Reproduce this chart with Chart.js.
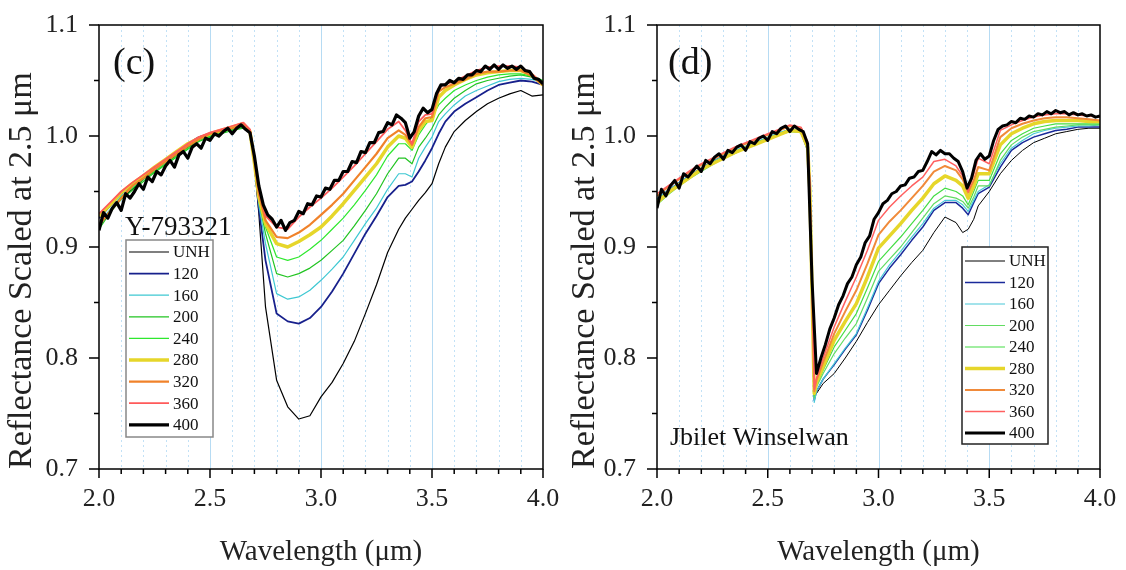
<!DOCTYPE html>
<html>
<head>
<meta charset="utf-8">
<script src="https://cdn.jsdelivr.net/npm/chart.js@4.4.1/dist/chart.umd.min.js"></script>
<style>
  body { margin: 0; background: #fff; }
  #wrap { position: relative; width: 1126px; height: 570px; overflow: hidden; }
  canvas { display: block; position: absolute; top: 0; }
  #chartC { left: 0; }
  #chartD { left: 563px; }
</style>
</head>
<body>
<div id="wrap">
  <canvas id="chartC" width="563" height="570"></canvas>
  <canvas id="chartD" width="563" height="570"></canvas>
</div>
<script>
// heating temperatures (legend labels)
const temps = ["UNH", "120", "160", "200", "240", "280", "320", "360", "400"];

// dense wavelength grid used for the noisy 400 spectra
const wl400 = [2.00, 2.02, 2.04, 2.06, 2.08, 2.10, 2.12, 2.14, 2.16, 2.18, 2.20, 2.22, 2.24, 2.26, 2.28,
  2.30, 2.32, 2.34, 2.36, 2.38, 2.40, 2.42, 2.44, 2.46, 2.48, 2.50, 2.52, 2.54, 2.56, 2.58,
  2.60, 2.62, 2.64, 2.66, 2.68, 2.70, 2.72, 2.74, 2.76, 2.78, 2.80, 2.82, 2.84, 2.86, 2.88,
  2.90, 2.92, 2.94, 2.96, 2.98, 3.00, 3.02, 3.04, 3.06, 3.08, 3.10, 3.12, 3.14, 3.16, 3.18,
  3.20, 3.22, 3.24, 3.26, 3.28, 3.30, 3.32, 3.34, 3.36, 3.38, 3.40, 3.42, 3.44, 3.46, 3.48,
  3.50, 3.52, 3.54, 3.56, 3.58, 3.60, 3.62, 3.64, 3.66, 3.68, 3.70, 3.72, 3.74, 3.76, 3.78,
  3.80, 3.82, 3.84, 3.86, 3.88, 3.90, 3.92, 3.94, 3.96, 3.98, 4.00];

// ---- panel (c) Y-793321 ----
const wlC = [2.0, 2.05, 2.1, 2.15, 2.2, 2.25, 2.3, 2.35, 2.4, 2.45, 2.5, 2.55, 2.6, 2.65,
  2.68, 2.7, 2.72, 2.75, 2.8, 2.85, 2.9, 2.95, 3.0, 3.05, 3.1, 3.15, 3.2, 3.25, 3.3, 3.35,
  3.38, 3.41, 3.44, 3.47, 3.5, 3.53, 3.56, 3.6, 3.65, 3.7, 3.75, 3.8, 3.85, 3.9, 3.95, 4.0];

const cUNH = [0.918, 0.933, 0.944, 0.952, 0.961, 0.968, 0.975, 0.983, 0.990, 0.996, 1.000, 1.004, 1.006, 1.008,
  1.002, 0.975, 0.930, 0.846, 0.780, 0.756, 0.745, 0.748, 0.765, 0.778, 0.795, 0.815, 0.840, 0.866, 0.895, 0.916,
  0.926, 0.934, 0.942, 0.949, 0.957, 0.975, 0.990, 1.004, 1.014, 1.022, 1.029, 1.034, 1.038, 1.041, 1.036, 1.037];
const c120 = [0.926, 0.937, 0.948, 0.956, 0.963, 0.971, 0.978, 0.986, 0.993, 0.999, 1.002, 1.005, 1.008, 1.010,
  1.004, 0.978, 0.935, 0.888, 0.840, 0.833, 0.831, 0.836, 0.846, 0.860, 0.876, 0.894, 0.912, 0.928, 0.945, 0.955,
  0.956, 0.959, 0.968, 0.978, 0.989, 1.002, 1.013, 1.022, 1.029, 1.035, 1.041, 1.046, 1.048, 1.050, 1.049, 1.046];
const c160 = [0.921, 0.934, 0.946, 0.954, 0.962, 0.969, 0.976, 0.984, 0.991, 0.997, 1.001, 1.004, 1.007, 1.009,
  1.004, 0.978, 0.938, 0.903, 0.858, 0.853, 0.855, 0.861, 0.870, 0.880, 0.891, 0.906, 0.921, 0.935, 0.952, 0.966,
  0.966, 0.963, 0.980, 0.990, 0.999, 1.013, 1.020, 1.028, 1.036, 1.041, 1.045, 1.049, 1.051, 1.052, 1.051, 1.048];
const c200 = [0.916, 0.931, 0.943, 0.951, 0.959, 0.967, 0.974, 0.981, 0.988, 0.995, 0.999, 1.002, 1.005, 1.007,
  1.003, 0.977, 0.942, 0.912, 0.876, 0.873, 0.876, 0.881, 0.888, 0.897, 0.906, 0.919, 0.933, 0.948, 0.966, 0.980,
  0.980, 0.975, 0.990, 0.998, 1.007, 1.019, 1.026, 1.034, 1.041, 1.047, 1.050, 1.052, 1.054, 1.055, 1.053, 1.049];
const c240 = [0.919, 0.933, 0.945, 0.953, 0.961, 0.968, 0.975, 0.982, 0.989, 0.996, 1.000, 1.003, 1.006, 1.008,
  1.004, 0.977, 0.944, 0.918, 0.891, 0.888, 0.891, 0.898, 0.906, 0.916, 0.926, 0.938, 0.951, 0.965, 0.982, 0.993,
  0.993, 0.987, 1.001, 1.010, 1.017, 1.028, 1.034, 1.041, 1.046, 1.050, 1.053, 1.055, 1.056, 1.056, 1.054, 1.050];
const c280 = [0.928, 0.938, 0.949, 0.957, 0.964, 0.972, 0.979, 0.986, 0.993, 0.998, 1.002, 1.005, 1.008, 1.011,
  1.004, 0.976, 0.945, 0.921, 0.903, 0.900, 0.905, 0.911, 0.918, 0.928, 0.939, 0.951, 0.963, 0.975, 0.990, 1.000,
  0.998, 0.990, 1.005, 1.013, 1.014, 1.035, 1.041, 1.046, 1.051, 1.055, 1.057, 1.058, 1.059, 1.059, 1.055, 1.046];
const c320 = [0.920, 0.932, 0.944, 0.955, 0.962, 0.970, 0.977, 0.984, 0.991, 0.997, 1.002, 1.005, 1.007, 1.010,
  1.005, 0.978, 0.948, 0.924, 0.909, 0.908, 0.913, 0.920, 0.929, 0.938, 0.948, 0.960, 0.972, 0.984, 0.998, 1.005,
  1.001, 0.992, 1.008, 1.016, 1.017, 1.040, 1.044, 1.047, 1.051, 1.056, 1.058, 1.058, 1.059, 1.059, 1.054, 1.046];
const c360 = [0.930, 0.940, 0.950, 0.958, 0.965, 0.972, 0.979, 0.986, 0.993, 0.999, 1.003, 1.006, 1.009, 1.012,
  1.006, 0.980, 0.952, 0.928, 0.918, 0.916, 0.927, 0.936, 0.944, 0.953, 0.963, 0.973, 0.984, 0.995, 1.006, 1.013,
  1.005, 0.993, 1.013, 1.019, 1.020, 1.043, 1.047, 1.049, 1.054, 1.059, 1.062, 1.063, 1.063, 1.062, 1.056, 1.047];
// 400 on the dense grid (wl400)
const c400 = [0.915, 0.931, 0.926, 0.935, 0.940, 0.933, 0.948, 0.944, 0.950, 0.957, 0.952, 0.963, 0.959, 0.968, 0.965,
  0.973, 0.978, 0.972, 0.983, 0.986, 0.980, 0.990, 0.993, 0.989, 0.998, 0.996, 1.002, 1.000, 1.004, 1.007,
  1.002, 1.007, 1.010, 1.006, 1.003, 0.982, 0.955, 0.938, 0.929, 0.925, 0.918, 0.924, 0.915, 0.922, 0.924,
  0.932, 0.930, 0.939, 0.938, 0.946, 0.945, 0.953, 0.952, 0.960, 0.960, 0.968, 0.968, 0.977, 0.976, 0.986,
  0.985, 0.994, 0.994, 1.003, 1.004, 1.012, 1.010, 1.019, 1.016, 1.012, 0.998, 1.004, 1.018, 1.025, 1.021,
  1.024, 1.038, 1.046, 1.046, 1.050, 1.048, 1.052, 1.051, 1.055, 1.055, 1.059, 1.058, 1.063, 1.060, 1.064,
  1.060, 1.064, 1.061, 1.063, 1.060, 1.063, 1.059, 1.058, 1.052, 1.051, 1.047];

// ---- panel (d) Jbilet Winselwan ----
const wlD = [2.0, 2.05, 2.1, 2.15, 2.2, 2.25, 2.3, 2.35, 2.4, 2.45, 2.5, 2.55, 2.6, 2.65,
  2.68, 2.69, 2.7, 2.71, 2.72, 2.75, 2.8, 2.85, 2.9, 2.95, 3.0, 3.05, 3.1, 3.15, 3.2, 3.25, 3.3, 3.35,
  3.38, 3.405, 3.43, 3.45, 3.5, 3.55, 3.6, 3.65, 3.7, 3.75, 3.8, 3.85, 3.9, 3.95, 4.0];

const dUNH = [0.941, 0.950, 0.957, 0.964, 0.970, 0.976, 0.981, 0.986, 0.990, 0.994, 0.998, 1.002, 1.005, 1.004,
  0.990, 0.950, 0.855, 0.770, 0.768, 0.777, 0.786, 0.800, 0.815, 0.832, 0.848, 0.861, 0.874, 0.886, 0.897, 0.913, 0.927, 0.922,
  0.913, 0.916, 0.925, 0.937, 0.950, 0.966, 0.978, 0.987, 0.994, 0.998, 1.002, 1.004, 1.006, 1.007, 1.007];
const d120 = [0.943, 0.951, 0.958, 0.965, 0.971, 0.977, 0.982, 0.986, 0.990, 0.994, 0.998, 1.002, 1.006, 1.004,
  0.987, 0.946, 0.851, 0.762, 0.770, 0.781, 0.794, 0.808, 0.821, 0.843, 0.867, 0.881, 0.893, 0.906, 0.918, 0.933, 0.940, 0.940,
  0.935, 0.929, 0.940, 0.948, 0.954, 0.972, 0.987, 0.994, 0.999, 1.002, 1.005, 1.006, 1.008, 1.008, 1.008];
const d160 = [0.944, 0.951, 0.958, 0.965, 0.971, 0.977, 0.982, 0.987, 0.991, 0.995, 0.999, 1.003, 1.006, 1.005,
  0.988, 0.947, 0.852, 0.760, 0.770, 0.781, 0.795, 0.809, 0.822, 0.845, 0.869, 0.884, 0.896, 0.909, 0.921, 0.935, 0.942, 0.942,
  0.938, 0.932, 0.942, 0.950, 0.956, 0.975, 0.989, 0.996, 1.002, 1.005, 1.007, 1.008, 1.009, 1.009, 1.010];
const d200 = [0.938, 0.947, 0.955, 0.962, 0.968, 0.974, 0.980, 0.984, 0.989, 0.993, 0.997, 1.001, 1.004, 1.003,
  0.987, 0.948, 0.855, 0.764, 0.774, 0.786, 0.804, 0.818, 0.831, 0.854, 0.878, 0.889, 0.900, 0.913, 0.926, 0.939, 0.946, 0.944,
  0.941, 0.935, 0.945, 0.955, 0.955, 0.978, 0.992, 0.999, 1.004, 1.006, 1.008, 1.009, 1.010, 1.010, 1.010];
const d240 = [0.942, 0.950, 0.957, 0.964, 0.970, 0.976, 0.981, 0.986, 0.990, 0.994, 0.998, 1.002, 1.006, 1.004,
  0.988, 0.950, 0.858, 0.766, 0.776, 0.789, 0.810, 0.825, 0.840, 0.863, 0.887, 0.898, 0.909, 0.921, 0.933, 0.946, 0.953, 0.950,
  0.946, 0.938, 0.950, 0.960, 0.960, 0.984, 0.996, 1.002, 1.007, 1.009, 1.011, 1.011, 1.011, 1.011, 1.011];
const d280 = [0.940, 0.949, 0.956, 0.963, 0.970, 0.975, 0.980, 0.985, 0.989, 0.993, 0.997, 1.001, 1.005, 1.004,
  0.990, 0.952, 0.860, 0.768, 0.778, 0.792, 0.816, 0.833, 0.849, 0.873, 0.899, 0.910, 0.921, 0.933, 0.944, 0.957, 0.964, 0.960,
  0.955, 0.944, 0.955, 0.966, 0.966, 0.992, 1.002, 1.007, 1.011, 1.013, 1.014, 1.014, 1.014, 1.013, 1.013];
const d320 = [0.946, 0.954, 0.961, 0.968, 0.974, 0.979, 0.984, 0.989, 0.993, 0.997, 1.001, 1.005, 1.009, 1.007,
  0.992, 0.955, 0.862, 0.770, 0.780, 0.796, 0.822, 0.842, 0.861, 0.885, 0.911, 0.923, 0.933, 0.944, 0.955, 0.968, 0.973, 0.969,
  0.961, 0.949, 0.960, 0.972, 0.969, 0.999, 1.007, 1.011, 1.014, 1.016, 1.017, 1.017, 1.016, 1.015, 1.014];
const d360 = [0.948, 0.955, 0.962, 0.969, 0.975, 0.980, 0.985, 0.990, 0.994, 0.998, 1.002, 1.006, 1.010, 1.008,
  0.995, 0.958, 0.865, 0.772, 0.782, 0.800, 0.828, 0.851, 0.873, 0.897, 0.924, 0.936, 0.946, 0.955, 0.963, 0.977, 0.979, 0.973,
  0.964, 0.950, 0.966, 0.980, 0.975, 1.005, 1.010, 1.014, 1.017, 1.019, 1.020, 1.020, 1.019, 1.018, 1.017];
// 400 on the dense grid (wl400)
const d400 = [0.935, 0.952, 0.946, 0.955, 0.960, 0.953, 0.966, 0.963, 0.968, 0.973, 0.968, 0.978, 0.975, 0.981, 0.984,
  0.979, 0.987, 0.985, 0.990, 0.992, 0.987, 0.995, 0.993, 0.998, 1.000, 0.996, 1.004, 1.002, 1.007, 1.009,
  1.004, 1.009, 1.006, 1.004, 0.993, 0.870, 0.786, 0.800, 0.812, 0.826, 0.836, 0.848, 0.856, 0.867, 0.873,
  0.884, 0.891, 0.904, 0.910, 0.925, 0.931, 0.939, 0.942, 0.948, 0.950, 0.955, 0.956, 0.962, 0.963, 0.968,
  0.969, 0.977, 0.986, 0.983, 0.987, 0.984, 0.984, 0.980, 0.977, 0.968, 0.953, 0.962, 0.978, 0.984, 0.979,
  0.982, 0.996, 1.006, 1.009, 1.010, 1.013, 1.012, 1.016, 1.015, 1.018, 1.017, 1.020, 1.019, 1.022, 1.020,
  1.023, 1.021, 1.022, 1.019, 1.021, 1.019, 1.020, 1.018, 1.019, 1.017, 1.018];

const FONT = "'Liberation Serif', 'Times New Roman', serif";

const colorsC = ["#000000", "#17208c", "#3ec8d2", "#22c422", "#2ee82e", "#e6d62a", "#f0822a", "#ff5a5a", "#000000"];
const widthsC = [1.2, 1.8, 1.2, 1.2, 1.2, 3.5, 2.2, 1.8, 3.2];
const colorsD = ["#000000", "#1a2a9a", "#48c8d8", "#62dc62", "#44dd44", "#e6d62a", "#f08a3a", "#ff6060", "#000000"];
const widthsD = [1.0, 1.5, 1.2, 1.2, 1.2, 3.5, 2.0, 1.5, 3.0];

// grid lines, frame and the outward ticks
const framePlugin = {
  id: "frame",
  beforeDatasetsDraw(chart) {
    const { ctx, chartArea: a, scales: { x } } = chart;
    ctx.save();
    ctx.lineWidth = 1;
    for (let i = 1; i < 20; i++) {
      const px = Math.round(x.getPixelForValue(2 + i / 10)) + 0.5;
      if (i % 5 === 0) { ctx.setLineDash([]); ctx.strokeStyle = "#b6dbf3"; }
      else { ctx.setLineDash([2, 3]); ctx.strokeStyle = "#c2e1f6"; }
      ctx.beginPath();
      ctx.moveTo(px, a.top);
      ctx.lineTo(px, a.bottom);
      ctx.stroke();
    }
    ctx.restore();
  },
  afterDatasetsDraw(chart) {
    const { ctx, chartArea: a, scales: { x, y } } = chart;
    ctx.save();
    ctx.strokeStyle = "#000";
    ctx.lineWidth = 1.5;
    ctx.strokeRect(a.left, a.top, a.right - a.left, a.bottom - a.top);
    ctx.beginPath();
    for (let i = 0; i <= 20; i++) {
      const px = x.getPixelForValue(2 + i / 10);
      const len = i % 5 === 0 ? 9 : 5;
      ctx.moveTo(px, a.bottom);
      ctx.lineTo(px, a.bottom + len);
    }
    for (let j = 0; j <= 8; j++) {
      const py = y.getPixelForValue(0.7 + j * 0.05);
      const len = j % 2 === 0 ? 10 : 5;
      ctx.moveTo(a.left, py);
      ctx.lineTo(a.left - len, py);
    }
    ctx.stroke();
    ctx.restore();
  }
};

// panel letter, sample name and boxed legend
const notesPlugin = {
  id: "notes",
  afterDraw(chart, args, opts) {
    const { ctx, chartArea: a } = chart;
    ctx.save();
    ctx.fillStyle = "#111";
    ctx.textBaseline = "alphabetic";
    ctx.textAlign = "left";
    ctx.font = "38px " + FONT;
    ctx.fillText(opts.letter, a.left + opts.letterDx, a.top + opts.letterDy);
    ctx.font = opts.nameSize + "px " + FONT;
    ctx.fillText(opts.name, a.left + opts.nameDx, a.top + opts.nameDy);

    const L = opts.legend;
    const bx = a.left + L.dx, by = a.top + L.dy;
    ctx.fillStyle = "#fff";
    ctx.fillRect(bx, by, L.w, L.h);
    ctx.strokeStyle = L.border;
    ctx.lineWidth = L.borderWidth;
    ctx.strokeRect(bx, by, L.w, L.h);
    ctx.font = "17px " + FONT;
    ctx.textBaseline = "middle";
    chart.data.datasets.forEach((ds, i) => {
      const ry = by + L.first + i * L.rowH;
      ctx.strokeStyle = ds.borderColor;
      ctx.lineWidth = ds.borderWidth;
      ctx.beginPath();
      ctx.moveTo(bx + 3, ry);
      ctx.lineTo(bx + 43, ry);
      ctx.stroke();
      ctx.fillStyle = "#111";
      ctx.fillText(ds.label, bx + 47, ry + 1);
    });
    ctx.restore();
  }
};

function makePanel(id, xs, series, colors, widths, yAxisWidth, padRight, notes) {
  const datasets = series.map((vals, i) => ({
    label: temps[i],
    data: xs[i].map((w, k) => ({ x: w, y: vals[k] })),
    borderColor: colors[i],
    borderWidth: widths[i],
    pointRadius: 0,
    fill: false,
    tension: 0,
    borderJoinStyle: "round",
    order: series.length - i
  }));

  return new Chart(document.getElementById(id), {
    type: "line",
    data: { datasets },
    plugins: [framePlugin, notesPlugin],
    options: {
      responsive: false,
      animation: false,
      devicePixelRatio: 1,
      layout: { padding: { left: 0, right: padRight, top: 25, bottom: 0 } },
      plugins: {
        legend: { display: false },
        tooltip: { enabled: false },
        notes
      },
      scales: {
        x: {
          type: "linear",
          min: 2.0,
          max: 4.0,
          grid: { display: false, drawTicks: true, tickLength: 15 },
          border: { display: false },
          afterFit: s => { s.height = 101; },
          ticks: {
            stepSize: 0.5,
            padding: 0,
            color: "#222",
            font: { family: FONT, size: 26 },
            callback: v => v.toFixed(1)
          },
          title: {
            display: true,
            text: "Wavelength (μm)",
            color: "#222",
            font: { family: FONT, size: 29 },
            padding: { top: 0, bottom: 0 }
          }
        },
        y: {
          type: "linear",
          min: 0.7,
          max: 1.1,
          grid: { display: false, drawTicks: true, tickLength: 21 },
          border: { display: false },
          afterFit: s => { s.width = yAxisWidth; },
          ticks: {
            stepSize: 0.1,
            padding: 0,
            color: "#222",
            font: { family: FONT, size: 26 },
            callback: v => v.toFixed(1)
          },
          title: {
            display: true,
            align: "start",
            text: "Reflectance Scaled at 2.5 μm",
            color: "#222",
            font: { family: FONT, size: 34 },
            padding: { top: 2, bottom: 0 }
          }
        }
      }
    }
  });
}

const xsC = [wlC, wlC, wlC, wlC, wlC, wlC, wlC, wlC, wl400];
const xsD = [wlD, wlD, wlD, wlD, wlD, wlD, wlD, wlD, wl400];

makePanel("chartC", xsC, [cUNH, c120, c160, c200, c240, c280, c320, c360, c400], colorsC, widthsC, 99, 20, {
  letter: "(c)", letterDx: 14, letterDy: 49,
  name: "Y-793321", nameSize: 27, nameDx: 26, nameDy: 210,
  legend: { dx: 27, dy: 215, w: 87, h: 197, first: 12, rowH: 21.6, border: "#888", borderWidth: 1.5 }
});

makePanel("chartD", xsD, [dUNH, d120, d160, d200, d240, d280, d320, d360, d400], colorsD, widthsD, 94, 26, {
  letter: "(d)", letterDx: 11, letterDy: 49,
  name: "Jbilet Winselwan", nameSize: 26, nameDx: 13, nameDy: 420,
  legend: { dx: 305, dy: 222, w: 86, h: 197, first: 14, rowH: 21.5, border: "#222", borderWidth: 1.5 }
});
</script>
</body>
</html>
